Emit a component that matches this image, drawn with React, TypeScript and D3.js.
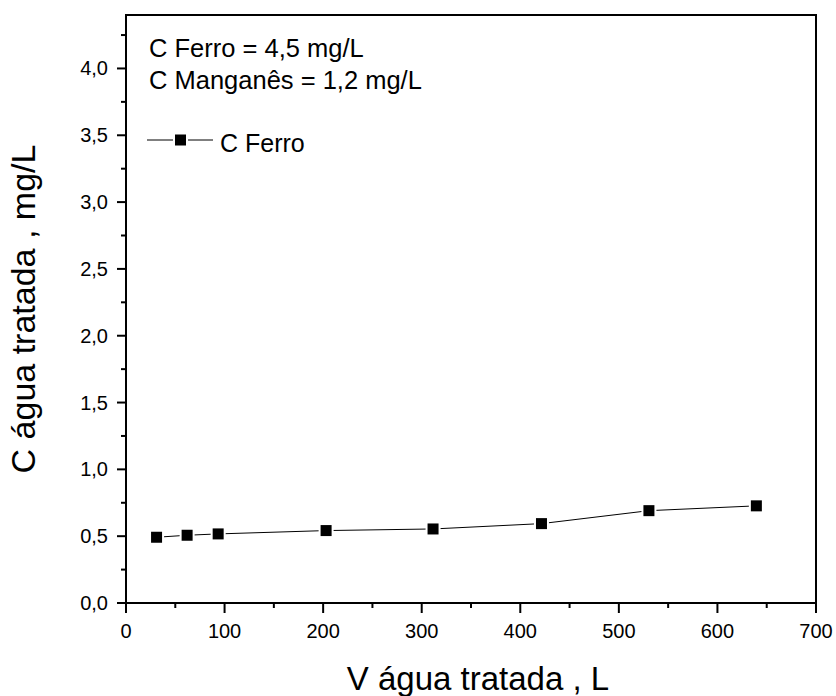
import React from "react";
import * as d3 from "d3";

// Treated water volume (L) and iron concentration in treated water (mg/L)
const volumeL = [31, 62, 93.5, 203, 311.5, 421.5, 530.5, 639.5];
const ironMgL = [0.492, 0.507, 0.517, 0.542, 0.554, 0.594, 0.691, 0.727];

const xMajorTicks = [0, 100, 200, 300, 400, 500, 600, 700];
const xMinorTicks = [50, 150, 250, 350, 450, 550, 650];
const yMajorTicks = [0, 0.5, 1.0, 1.5, 2.0, 2.5, 3.0, 3.5, 4.0];
const yMinorTicks = [0.25, 0.75, 1.25, 1.75, 2.25, 2.75, 3.25, 3.75, 4.25];

const noteLines = ["C Ferro = 4,5 mg/L", "C Manganês = 1,2 mg/L"];
const seriesName = "C Ferro";
const xTitle = "V água tratada , L";
const yTitle = "C água tratada , mg/L";

const W = 836;
const H = 696;
const FONT = "'Liberation Sans', Arial, Helvetica, sans-serif";

export default function App() {
  const left = 126;
  const right = 816;
  const top = 15;
  const bottom = 603;

  const x = d3.scaleLinear().domain([0, 700]).range([left, right]);
  const y = d3.scaleLinear().domain([0, 4.4]).range([bottom, top]);

  const pts = volumeL.map((v, i) => [x(v), y(ironMgL[i])] as [number, number]);
  const line = d3.line()(pts) || "";
  const fmtY = (v: number) => d3.format(".1f")(v).replace(".", ",");

  const marker = (cx: number, cy: number, key: string | number) => (
    <g key={key}>
      <rect x={cx - 7.5} y={cy - 7.5} width={15} height={15} fill="#fff" />
      <rect x={cx - 5.5} y={cy - 5.5} width={11} height={11} fill="#000" />
    </g>
  );

  return (
    <svg
      width={W}
      height={H}
      style={{ position: "absolute", left: 0, top: 0, background: "#fff" }}
      fontFamily={FONT}
    >
      {/* data line and markers */}
      <path d={line} fill="none" stroke="#000" strokeWidth={1} />
      {pts.map((p, i) => marker(p[0], p[1], i))}

      {/* frame */}
      <rect
        x={left}
        y={top}
        width={right - left}
        height={bottom - top}
        fill="none"
        stroke="#000"
        strokeWidth={2}
      />

      {/* x axis ticks */}
      {xMajorTicks.map((t) => (
        <g key={"xm" + t}>
          <line x1={x(t)} x2={x(t)} y1={bottom} y2={bottom + 10} stroke="#000" strokeWidth={2} />
          <text x={x(t)} y={638} textAnchor="middle" fontSize={20}>
            {t}
          </text>
        </g>
      ))}
      {xMinorTicks.map((t) => (
        <line key={"xn" + t} x1={x(t)} x2={x(t)} y1={bottom} y2={bottom + 5} stroke="#000" strokeWidth={2} />
      ))}

      {/* y axis ticks */}
      {yMajorTicks.map((t) => (
        <g key={"ym" + t}>
          <line x1={left - 9} x2={left} y1={y(t)} y2={y(t)} stroke="#000" strokeWidth={2} />
          <text x={108} y={y(t)} dy="0.35em" textAnchor="end" fontSize={20}>
            {fmtY(t)}
          </text>
        </g>
      ))}
      {yMinorTicks.map((t) => (
        <line key={"yn" + t} x1={left - 5} x2={left} y1={y(t)} y2={y(t)} stroke="#000" strokeWidth={2} />
      ))}

      {/* axis titles */}
      <text x={478} y={690} textAnchor="middle" fontSize={33}>
        {xTitle}
      </text>
      <text
        transform={`translate(35, ${(top + bottom) / 2}) rotate(-90)`}
        textAnchor="middle"
        fontSize={34}
      >
        {yTitle}
      </text>

      {/* notes */}
      {noteLines.map((s, i) => (
        <text key={s} x={149} y={57 + i * 31.5} fontSize={25.5}>
          {s}
        </text>
      ))}

      {/* legend */}
      <line x1={147} x2={213} y1={140} y2={140} stroke="#000" strokeWidth={1} />
      {marker(180.5, 140, "legend")}
      <text x={220} y={152} fontSize={25}>
        {seriesName}
      </text>
    </svg>
  );
}
